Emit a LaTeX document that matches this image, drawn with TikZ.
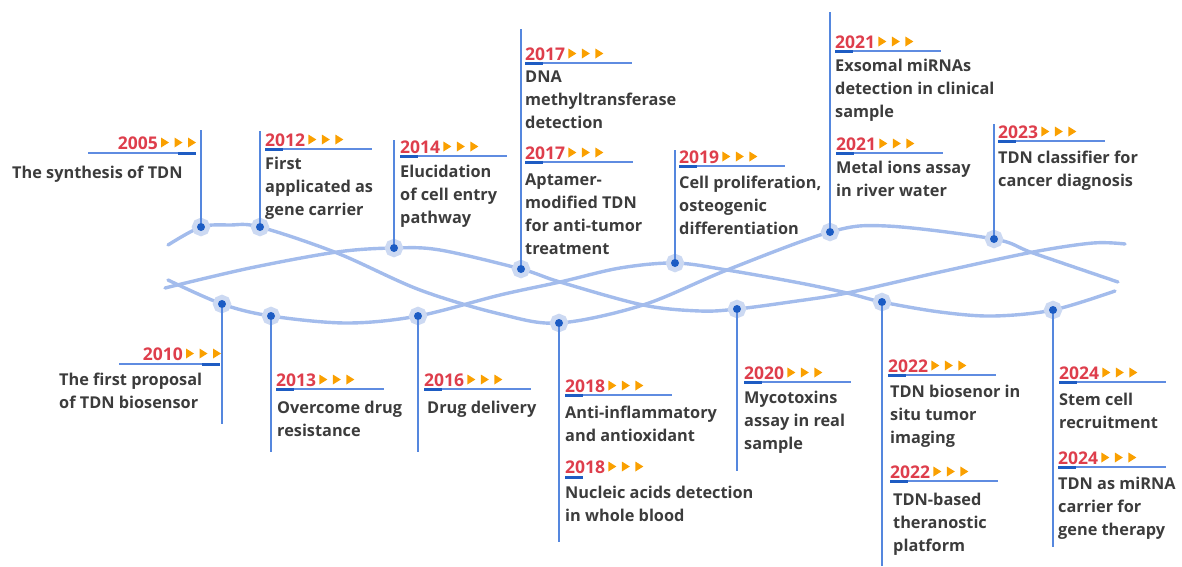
\documentclass[tikz,border=0pt]{standalone}
\usepackage{fontspec}
\setmainfont{Open Sans}
\definecolor{yearred}{RGB}{222,62,76}
\definecolor{triorange}{RGB}{250,160,0}
\definecolor{txtgray}{RGB}{60,60,60}
\definecolor{stemcol}{RGB}{85,135,222}
\definecolor{ulcol}{RGB}{95,140,225}
\definecolor{ulthickcol}{RGB}{30,92,195}
\definecolor{dotcol}{RGB}{28,92,196}
\definecolor{halocol}{RGB}{204,217,242}
\definecolor{curvecol}{RGB}{163,188,236}
\newcommand{\desctext}[1]{\begin{tabular}[t]{@{}l@{}}#1\end{tabular}}
\newcommand{\yrlabel}[5]{%
  \node[yearlbl, anchor=base west] (#1) at (#2,#3) {#4};
  \pic at (#1.base east) {arrs};
  \draw[uline] (#2,#3+3) -- (#5,#3+3);
  \draw[ulthick] (#2,#3+3) -- (#2+18,#3+3);
}
\newcommand{\yrlabelR}[6]{%
  \node[yearlbl, anchor=base east] (#1) at (#2,#3) {#4};
  \pic at (#1.base east) {arrs};
  \draw[uline] (#5,#3+4) -- (#6,#3+4);
  \draw[ulthick] (#6-18,#3+4) -- (#6,#3+4);
}
\tikzset{
  curve/.style={draw=curvecol, line width=3.4pt, line cap=round},
  dotn/.style={circle, inner sep=0pt, minimum size=8pt, fill=dotcol,
    preaction={draw=halocol, line width=10pt}},
  stem/.style={draw=stemcol, line width=1.3pt},
  yearlbl/.style={font=\fontsize{17.5}{20}\selectfont\bfseries, text=yearred, inner sep=0pt},
  desc/.style={font=\fontsize{16.3}{23}\selectfont\bfseries, text=txtgray, inner sep=0pt, anchor=base west},
  uline/.style={draw=ulcol, line width=1.2pt},
  ulthick/.style={draw=ulthickcol, line width=3pt},
  arrs/.pic={
    \foreach \i in {0,1,2} {
      \fill[triorange] (3+13.5*\i,-1.5) -- (11+13.5*\i,-6.5) -- (3+13.5*\i,-11.5) -- cycle;
    }
  }
}
\begin{document}
\begin{tikzpicture}[x=1pt,y=-1pt]
\useasboundingbox (0,0) rectangle (1182,566);
% helix strands
\draw[curve] plot[smooth, tension=0.55] coordinates {(168,245) (201,227) (230,225) (260,227) (337,253) (420,290) (500,314) (559,323) (643,305) (727,270) (830,232) (887,226) (994,239) (1033,253) (1118,282)};
\draw[curve] plot[smooth, tension=0.55] coordinates {(165,288) (250,268) (337,252) (394,248) (440,250) (521,269) (560,282) (643,305) (700,311) (737,309) (790,302) (847,293) (940,272) (1033,252) (1093,243) (1125,244)};
\draw[curve] plot[smooth, tension=0.55] coordinates {(168,280) (222,304) (271,316) (347,323) (418,316) (500,295) (560,282) (620,268) (675,263) (727,270) (800,283) (847,293) (882,302) (940,312) (993,316) (1053,310) (1115,291)};
% dots
\node[dotn] (d2005) at (201,227) {};
\node[dotn] (d2012) at (260,227) {};
\node[dotn] (d2014) at (394,248) {};
\node[dotn] (d2017) at (521,269) {};
\node[dotn] (d2019) at (675,263) {};
\node[dotn] (d2021) at (830,232) {};
\node[dotn] (d2023) at (994,239) {};
\node[dotn] (d2010) at (222,304) {};
\node[dotn] (d2013) at (271,316) {};
\node[dotn] (d2016) at (418,316) {};
\node[dotn] (d2018) at (559,323) {};
\node[dotn] (d2020) at (737,309) {};
\node[dotn] (d2022) at (882,302) {};
\node[dotn] (d2024) at (1053,310) {};
% stem ends
\coordinate (t2005) at (201,130);
\coordinate (t2012) at (260,131);
\coordinate (t2014) at (394,140);
\coordinate (t2017) at (521,29);
\coordinate (t2019) at (675,150);
\coordinate (t2021) at (830,12);
\coordinate (t2023) at (994,124);
\coordinate (b2010) at (222,424);
\coordinate (b2013) at (271,452);
\coordinate (b2016) at (418,452);
\coordinate (b2018) at (559,542);
\coordinate (b2020) at (737,471);
\coordinate (b2022) at (882,566);
\coordinate (b2024) at (1053,547);
\foreach \n in {2005,2012,2014,2017,2019,2021,2023} {\draw[stem] (d\n) -- (t\n);}
\foreach \n in {2010,2013,2016,2018,2020,2022,2024} {\draw[stem] (d\n) -- (b\n);}
% top labels
\yrlabelR{y2005}{158}{149}{2005}{88}{196}
\node[desc] (x2005) at (12,178) {\desctext{The synthesis of TDN}};
\yrlabel{y2012}{265}{146}{2012}{372}
\node[desc] (x2012) at (265,169) {\desctext{First\\applicated as\\gene carrier}};
\yrlabel{y2014}{400}{153}{2014}{507}
\node[desc] (x2014) at (400,177) {\desctext{Elucidation\\of cell entry\\pathway}};
\yrlabel{y2017a}{525}{60}{2017}{632}
\node[desc] (x2017a) at (525,82) {\desctext{DNA\\methyltransferase\\detection}};
\yrlabel{y2017b}{525}{159}{2017}{633}
\node[desc] (x2017b) at (525,185) {\desctext{Aptamer-\\modified TDN\\for anti-tumor\\treatment}};
\yrlabel{y2019}{679}{163}{2019}{785}
\node[desc] (x2019) at (679,188) {\desctext{Cell proliferation,\\osteogenic\\differentiation}};
\yrlabel{y2021a}{835}{48}{2021}{941}
\node[desc] (x2021a) at (835,71) {\desctext{Exsomal miRNAs\\detection in clinical\\sample}};
\yrlabel{y2021b}{836}{150}{2021}{943}
\node[desc] (x2021b) at (836,173) {\desctext{Metal ions assay\\in river water}};
\yrlabel{y2023}{998}{138}{2023}{1105}
\node[desc] (x2023) at (998,163) {\desctext{TDN classifier for\\cancer diagnosis}};
% bottom labels
\yrlabelR{y2010}{183}{360}{2010}{119}{220}
\node[desc] (x2010) at (59,385) {\desctext{The first proposal\\of TDN biosensor}};
\yrlabel{y2013}{276}{386}{2013}{384}
\node[desc] (x2013) at (277,413) {\desctext{Overcome drug\\resistance}};
\yrlabel{y2016}{424}{386}{2016}{531}
\node[desc] (x2016) at (427,413) {\desctext{Drug delivery}};
\yrlabel{y2018a}{565}{392}{2018}{672}
\node[desc] (x2018a) at (565,418) {\desctext{Anti-inflammatory\\and antioxidant}};
\node[yearlbl, anchor=base west] (y2018b) at (565,473) {2018};
\pic at (y2018b.base east) {arrs};
\draw[ulthick] (565,477) -- (583,477);
\node[desc] (x2018b) at (565,498) {\desctext{Nucleic acids detection\\in whole blood}};
\yrlabel{y2020}{744}{379}{2020}{851}
\node[desc] (x2020) at (744,403) {\desctext{Mycotoxins\\assay in real\\sample}};
\yrlabel{y2022a}{888}{372}{2022}{996}
\node[desc] (x2022a) at (890,397) {\desctext{TDN biosenor in\\situ tumor\\imaging}};
\yrlabel{y2022b}{890}{478}{2022}{998}
\node[desc] (x2022b) at (893,505) {\desctext{TDN-based\\theranostic\\platform}};
\yrlabel{y2024a}{1059}{379}{2024}{1166}
\node[desc] (x2024a) at (1059,405) {\desctext{Stem cell\\recruitment}};
\yrlabel{y2024b}{1058}{464}{2024}{1166}
\node[desc] (x2024b) at (1058,489) {\desctext{TDN as miRNA\\carrier for\\gene therapy}};
\end{tikzpicture}
\end{document}
